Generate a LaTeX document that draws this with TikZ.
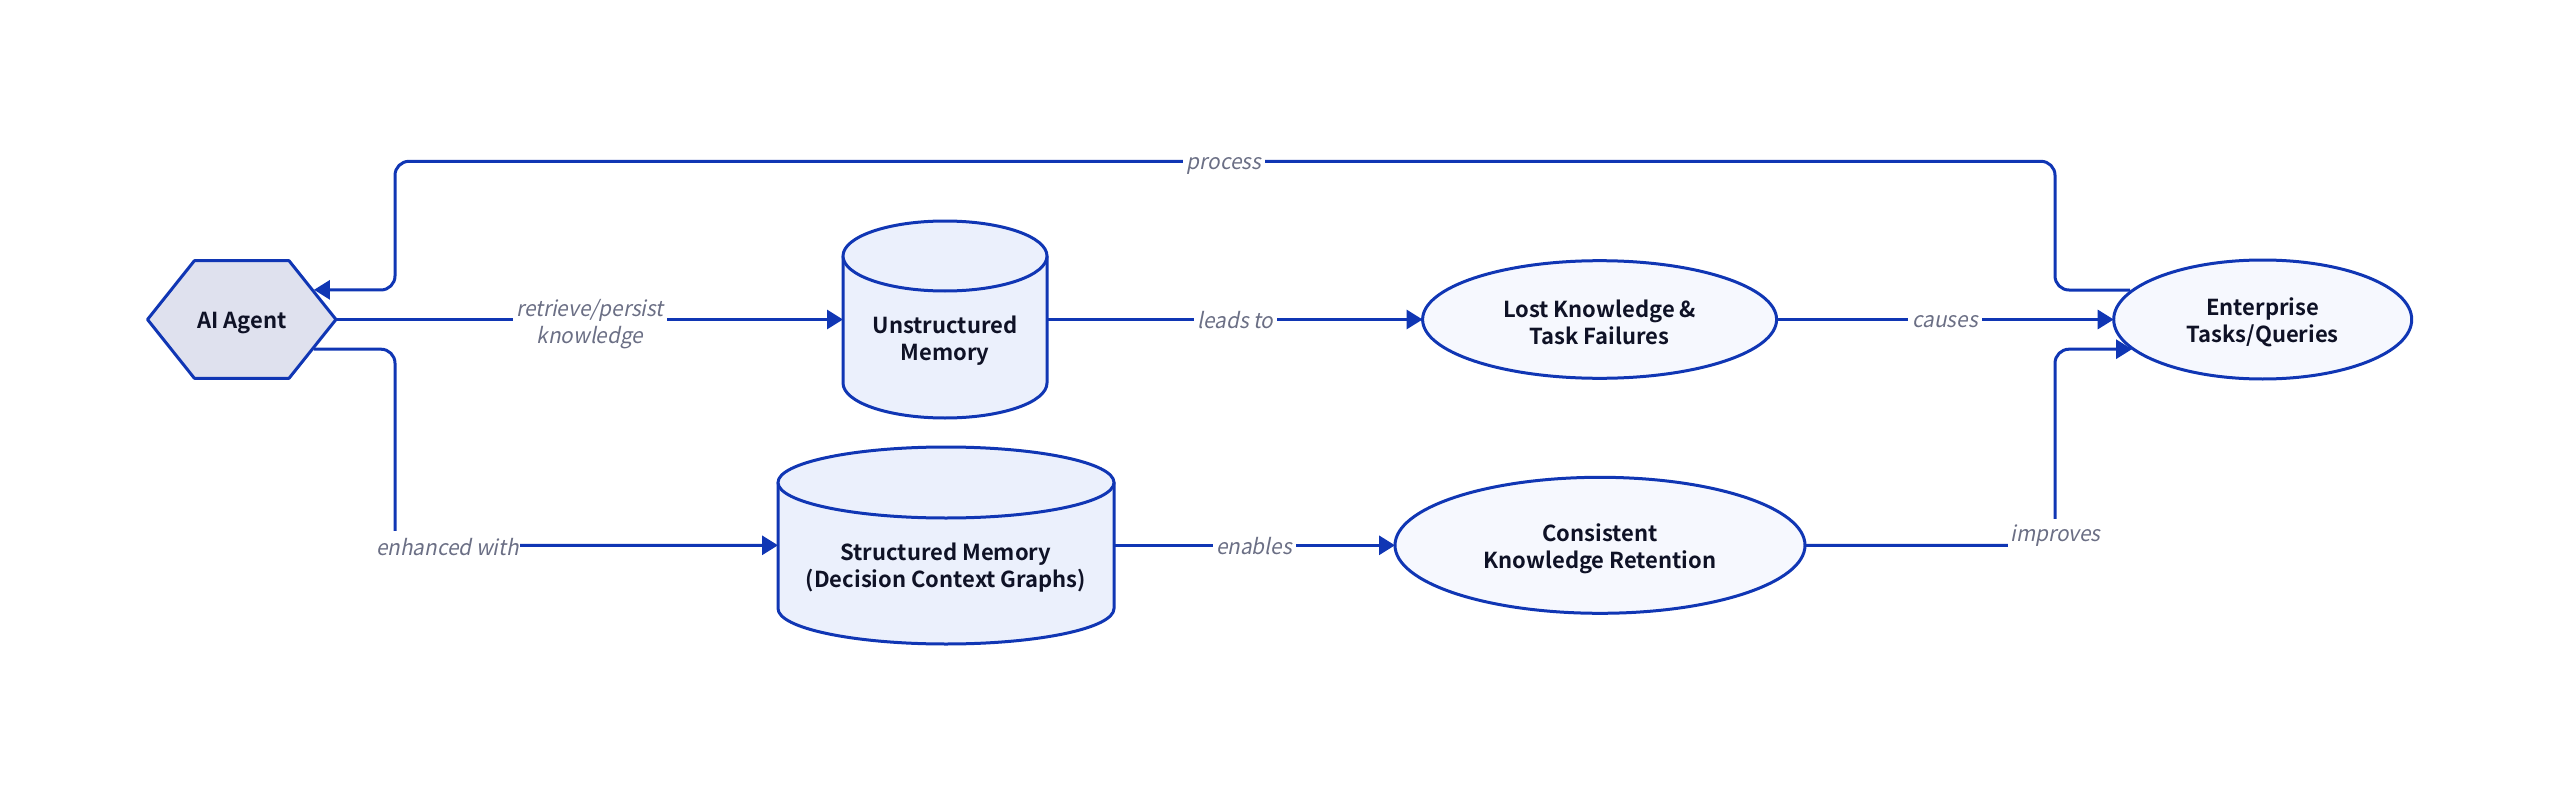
\documentclass[tikz,border=0pt]{standalone}
\usepackage{fontspec}
\usetikzlibrary{shapes.geometric,arrows.meta,calc}
\setmainfont{Noto Sans CJK SC}[BoldFont={Noto Sans CJK SC Bold}]
\newfontfamily\labelfont{Noto Sans CJK SC}[FakeSlant=0.2,FakeStretch=0.96]
\definecolor{linec}{HTML}{1036B4}
\definecolor{hexfill}{HTML}{DFE1EE}
\definecolor{cylfill}{HTML}{EBF0FC}
\definecolor{ellfill}{HTML}{F6F8FE}
\definecolor{inkc}{HTML}{0F1226}
\definecolor{labc}{HTML}{6B6F85}
\tikzset{
  x=0.5pt,y=-0.5pt,
  outl/.style={draw=linec,line width=1.5pt,line join=round},
  txt/.style={text=inkc,font=\fontsize{11pt}{13.5pt}\selectfont\bfseries,align=center,inner sep=0pt,outer sep=0pt},
  ell/.style={outl,fill=ellfill,ellipse,minimum width=#1,inner sep=0pt,outer sep=0pt},
  ctext/.style={label={[txt,yshift=-1.2pt]center:{#1}}},
  conn/.style={draw=linec,line width=1.5pt,rounded corners=7pt},
  arr/.style={conn,-{Triangle[length=8pt,width=9.5pt]},shorten >=0pt},
  lab/.style={text=labc,fill=white,font=\labelfont\fontsize{10.8pt}{13.5pt}\selectfont,align=center,inner sep=0pt,outer sep=0pt},
}
\newcommand{\cyldraw}[5]{%
  \draw[outl,fill=cylfill] ({#1-#2},#3) -- ({#1-#2},#4)
     arc[start angle=180,end angle=0,x radius=#2,y radius=#5] -- ({#1+#2},#3) -- cycle;
  \draw[outl,fill=cylfill] (#1,#3) ellipse[x radius=#2,y radius=#5];
}
\begin{document}
\begin{tikzpicture}
\useasboundingbox (0,0) rectangle (2560,792);
\fill[white] (0,0) rectangle (2560,792);
% shapes
\draw[outl,fill=hexfill] (147.5,319.5) -- (194.4,260.7) -- (289,260.7) -- (336,319.5) -- (289,378.3) -- (194.4,378.3) -- cycle;
\node[minimum width=94.25pt,minimum height=58.8pt,inner sep=0pt,outer sep=0pt,label={[txt,yshift=-1.7pt]center:{AI Agent}}] (agent) at (241.7,319.5) {};
\cyldraw{945}{102}{256}{383}{35}
\node[minimum width=102pt,minimum height=81pt,inner sep=0pt,outer sep=0pt] (cylA) at (945,319.5) {};
\node[txt] (cylAt) at (945,341) {Unstructured\\Memory};
\cyldraw{946}{168}{482.5}{608.5}{35.5}
\node[minimum width=168pt,minimum height=81pt,inner sep=0pt,outer sep=0pt] (cylB) at (946,545.3) {};
\node[txt] (cylBt) at (946,568) {Structured Memory\\(Decision Context Graphs)};
\node[ell=177pt,minimum height=58.8pt,ctext={Lost Knowledge \&\\Task Failures}] (lost) at (1599.6,319.5) {};
\node[ell=205pt,minimum height=68pt,label={[txt,yshift=-1.9pt]center:{Consistent\\Knowledge Retention}}] (keep) at (1600,545.3) {};
\node[ell=149pt,minimum height=59.5pt,ctext={Enterprise\\Tasks/Queries}] (ent) at (2262.7,319.5) {};
% free ends on shape borders
\coordinate (agentUp) at ($(agent.east)+(-22,-29.7)$);
\coordinate (agentDn) at ($(agent.east)+(-22,29.7)$);
\coordinate (entUp) at ($(ent.center)+(-132.7,-29.5)$);
\coordinate (entDn) at ($(ent.center)+(-130.7,29.7)$);
% connectors
\draw[arr] (entUp) -- (2055,290) -- (2055,161.3) -- (395,161.3) -- (395,290) -- (agentUp);
\draw[arr] (agent.east) -- (cylA.west);
\draw[arr] (agentDn) -- (395,349.2) -- (395,545.3) -- (cylB.west);
\draw[arr] (cylA.east) -- (lost.west);
\draw[arr] (cylB.east) -- (keep.west);
\draw[arr] (lost.east) -- (ent.west);
\draw[arr] (keep.east) -- (2055,545.3) -- (2055,349.2) -- (entDn);
% labels
\node[lab,minimum width=41pt,minimum height=16pt] (lprocess) at (1224,166) {process};
\node[lab,minimum width=77pt,minimum height=30pt] (lretr) at (590,324) {retrieve/persist\\knowledge};
\node[lab,minimum width=72.5pt,minimum height=16pt] (lenh) at (447.5,547) {enhanced with};
\node[lab,minimum width=41.5pt,minimum height=15pt] (lleads) at (1235.5,320.5) {leads to};
\node[lab,minimum width=41.5pt,minimum height=15pt] (lenab) at (1254,546.5) {enables};
\node[lab,minimum width=37pt,minimum height=15pt] (lcause) at (1945,321.5) {causes};
\node[lab,minimum width=47.5pt,minimum height=17pt] (limpr) at (2055.5,535.5) {improves};
\end{tikzpicture}
\end{document}
